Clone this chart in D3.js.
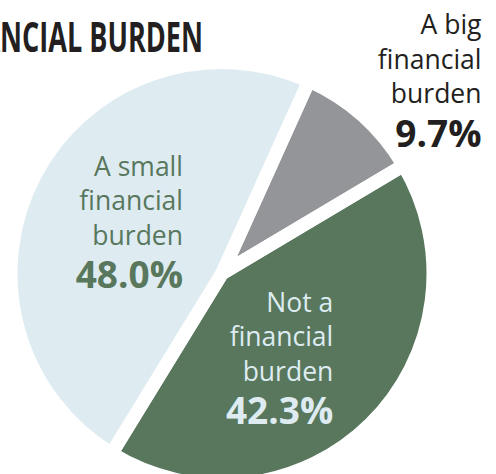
<!DOCTYPE html>
<html>
<head>
<meta charset="utf-8">
<script src="https://cdn.jsdelivr.net/npm/d3@7"></script>
<style>
  html, body { margin: 0; padding: 0; background: #ffffff; }
  svg { display: block; }
  text { font-family: "Open Sans", "Noto Sans", sans-serif; }
</style>
</head>
<body>
<svg id="chart" width="496" height="474"></svg>
<script>
// Share of respondents by how much of a financial burden it is
const categories = ["A big financial burden", "Not a financial burden", "A small financial burden"];
const values = [9.7, 42.3, 48.0];
const labelLines = [
  ["A big", "financial", "burden"],
  ["Not a", "financial", "burden"],
  ["A small", "financial", "burden"]
];
const titleText = "FINANCIAL BURDEN";

// Styling and layout
const colors = ["#939598", "#58775d", "#deecf2"];
const labelColors = ["#231f20", "#deecf2", "#58775d"];
const width = 496, height = 474;
const cx = 222, cy = 273.5;
const radius = 204.5;           // visible radius of the pie
const gap = 13.4;               // white gap between slices
const startDeg = 24.3;          // first slice begins just right of 12 o'clock
const lineStep = 34.5, pctStep = 43.5;
const labelAnchors = [          // right edge and first baseline of each label block
  { x: 481.5, y: 34 },
  { x: 333.3, y: 311.7 },
  { x: 183, y: 175.7 }
];

const svg = d3.select("#chart");

// Title, right-aligned so its start runs off the left edge
const title = svg.append("text")
  .attr("text-anchor", "end")
  .attr("font-weight", 700)
  .attr("font-size", 41)
  .attr("fill", "#231f20")
  .text(titleText);
{
  const node = title.node();
  const visible = node.getSubStringLength(4, titleText.length - 4);
  const sx = 203 / visible;
  title.attr("transform", `translate(203,52) scale(${sx},1)`);
}

const pie = d3.pie().sort(null).value(d => d)
  .startAngle(startDeg * Math.PI / 180)
  .endAngle(startDeg * Math.PI / 180 + 2 * Math.PI);
const arcs = pie(values);

// Outer radius is enlarged by half the gap; the white outline trims it back
const arc = d3.arc().innerRadius(0).outerRadius(radius + gap / 2);

const g = svg.append("g").attr("transform", `translate(${cx},${cy})`);
g.selectAll("path.slice")
  .data(arcs)
  .join("path")
  .attr("class", "slice")
  .attr("d", arc)
  .attr("fill", (d, i) => colors[i]);
g.selectAll("path.edge")
  .data(arcs)
  .join("path")
  .attr("class", "edge")
  .attr("d", arc)
  .attr("fill", "none")
  .attr("stroke", "#ffffff")
  .attr("stroke-width", gap)
  .attr("stroke-linejoin", "miter");

// Labels
const fmt = d3.format(".1f");
arcs.forEach((d, i) => {
  const a = labelAnchors[i];
  const t = svg.append("text")
    .attr("text-anchor", "end")
    .attr("fill", labelColors[i]);
  labelLines[i].forEach((line, j) => {
    t.append("tspan")
      .attr("x", a.x)
      .attr("y", a.y + j * lineStep)
      .attr("font-size", 26.5)
      .text(line);
  });
  t.append("tspan")
    .attr("x", a.x)
    .attr("y", a.y + (labelLines[i].length - 1) * lineStep + pctStep)
    .attr("font-size", 37)
    .attr("font-weight", 700)
    .text(fmt(d.data) + "%");
});
</script>
</body>
</html>
